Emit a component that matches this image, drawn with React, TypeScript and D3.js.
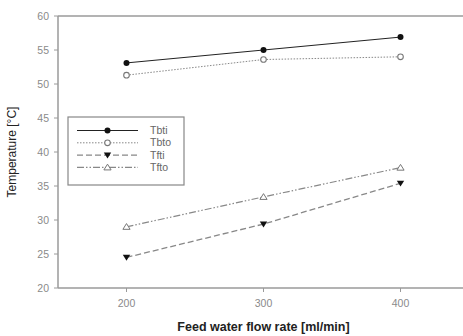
import * as d3 from 'd3';
import { useEffect, useRef } from 'react';

const flowRates = [200, 300, 400];
const tbti = [53.1, 55.0, 56.9];
const tbto = [51.3, 53.6, 54.0];
const tfti = [24.5, 29.4, 35.4];
const tfto = [29.0, 33.4, 37.7];
const seriesNames = ['Tbti', 'Tbto', 'Tfti', 'Tfto'];
const yTicks = [20, 25, 30, 35, 40, 45, 50, 55, 60];

const W = 463;
const H = 336;

type Series = {
  name: string;
  values: number[];
  dash: string;
  stroke: string;
  width: number;
  marker: 'dot' | 'circle' | 'tri-down' | 'tri-up';
};

const App = () => {
  const svgRef = useRef<SVGSVGElement>(null);

  useEffect(() => {
    document.body.style.margin = '0';
    if (!svgRef.current) return;
    const svg = d3.select(svgRef.current);
    svg.selectAll('*').remove();

    const left = 58;
    const top = 16;
    const bottom = 288;
    const font = 'Liberation Sans, Arial, sans-serif';

    const x = d3.scaleLinear().domain([150, 450]).range([left, left + 411]);
    const y = d3.scaleLinear().domain([20, 60]).range([bottom, top]);

    const series: Series[] = [
      { name: seriesNames[0], values: tbti, dash: '', stroke: '#222', width: 1, marker: 'dot' },
      { name: seriesNames[1], values: tbto, dash: '1.5,1.5', stroke: '#888', width: 1, marker: 'circle' },
      { name: seriesNames[2], values: tfti, dash: '6,3', stroke: '#888', width: 1.3, marker: 'tri-down' },
      { name: seriesNames[3], values: tfto, dash: '7,2,1.5,2,1.5,2', stroke: '#888', width: 1.2, marker: 'tri-up' },
    ];

    const axisColor = '#9a9a9a';
    const labelColor = '#8a8a8a';

    // frame lines
    svg.append('line').attr('x1', left).attr('x2', W).attr('y1', top).attr('y2', top)
      .attr('stroke', axisColor).attr('stroke-width', 1.5);
    svg.append('line').attr('x1', left).attr('x2', W).attr('y1', bottom).attr('y2', bottom)
      .attr('stroke', axisColor).attr('stroke-width', 1.5);
    svg.append('line').attr('x1', left).attr('x2', left).attr('y1', top).attr('y2', bottom)
      .attr('stroke', axisColor).attr('stroke-width', 1.5);

    // y ticks
    const yt = svg.append('g');
    yTicks.forEach((t) => {
      yt.append('line').attr('x1', left - 4).attr('x2', left).attr('y1', y(t)).attr('y2', y(t))
        .attr('stroke', axisColor);
      yt.append('text').attr('x', left - 9).attr('y', y(t)).attr('dy', '0.35em')
        .attr('text-anchor', 'end').attr('fill', labelColor)
        .attr('font-family', font).attr('font-size', 10.5)
        .text(t);
    });

    // x ticks
    const xt = svg.append('g');
    flowRates.forEach((t) => {
      xt.append('line').attr('x1', x(t)).attr('x2', x(t)).attr('y1', bottom).attr('y2', bottom + 4)
        .attr('stroke', axisColor);
      xt.append('text').attr('x', x(t)).attr('y', bottom + 15).attr('dy', '0.35em')
        .attr('text-anchor', 'middle').attr('fill', labelColor)
        .attr('font-family', font).attr('font-size', 10.5)
        .text(t);
    });

    // axis titles
    svg.append('text').attr('x', x(300)).attr('y', 331)
      .attr('text-anchor', 'middle').attr('fill', '#222')
      .attr('font-family', font).attr('font-size', 12.5)
      .attr('font-weight', 600)
      .text('Feed water flow rate [ml/min]');
    svg.append('text')
      .attr('transform', `translate(16,${(top + bottom) / 2}) rotate(-90)`)
      .attr('text-anchor', 'middle').attr('fill', '#222')
      .attr('font-family', font).attr('font-size', 12)
      .text('Temperature [°C]');

    const drawMarker = (g: d3.Selection<SVGGElement, unknown, null, undefined>, kind: Series['marker'], cx: number, cy: number) => {
      if (kind === 'dot') {
        g.append('circle').attr('cx', cx).attr('cy', cy).attr('r', 3).attr('fill', '#111');
      } else if (kind === 'circle') {
        g.append('circle').attr('cx', cx).attr('cy', cy).attr('r', 2.8).attr('fill', '#fff')
          .attr('stroke', '#777').attr('stroke-width', 1.1);
      } else if (kind === 'tri-down') {
        const s = 3.7;
        g.append('path').attr('d', `M${cx - s},${cy - s * 0.7}L${cx + s},${cy - s * 0.7}L${cx},${cy + s * 0.9}Z`)
          .attr('fill', '#111');
      } else {
        const s = 3.6;
        g.append('path').attr('d', `M${cx - s},${cy + s * 0.7}L${cx + s},${cy + s * 0.7}L${cx},${cy - s * 0.9}Z`)
          .attr('fill', '#fff').attr('stroke', '#777').attr('stroke-width', 1);
      }
    };

    const line = d3.line<number>().x((_, i) => x(flowRates[i])).y((d) => y(d));

    series.forEach((s) => {
      const g = svg.append('g');
      g.append('path').attr('d', line(s.values) || '').attr('fill', 'none')
        .attr('stroke', s.stroke).attr('stroke-width', s.width)
        .attr('stroke-dasharray', s.dash || null);
      s.values.forEach((v, i) => drawMarker(g, s.marker, x(flowRates[i]), y(v)));
    });

    // legend
    const lx = 68;
    const ly = 117;
    const legend = svg.append('g');
    legend.append('rect').attr('x', lx).attr('y', ly).attr('width', 116).attr('height', 68)
      .attr('fill', '#fff').attr('stroke', '#888').attr('stroke-width', 1.2);
    series.forEach((s, i) => {
      const ry = ly + 13.5 + i * 12.3;
      const g = legend.append('g');
      g.append('line').attr('x1', lx + 9).attr('x2', lx + 70).attr('y1', ry).attr('y2', ry)
        .attr('stroke', s.stroke).attr('stroke-width', s.width)
        .attr('stroke-dasharray', s.dash || null);
      drawMarker(g, s.marker, lx + 39.5, ry);
      g.append('text').attr('x', lx + 82).attr('y', ry).attr('dy', '0.35em')
        .attr('fill', '#666').attr('font-family', font)
        .attr('font-size', 10.5).text(s.name);
    });
  }, []);

  return <svg ref={svgRef} width={W} height={H} style={{ display: 'block', background: '#fff' }} />;
};

export default App;
